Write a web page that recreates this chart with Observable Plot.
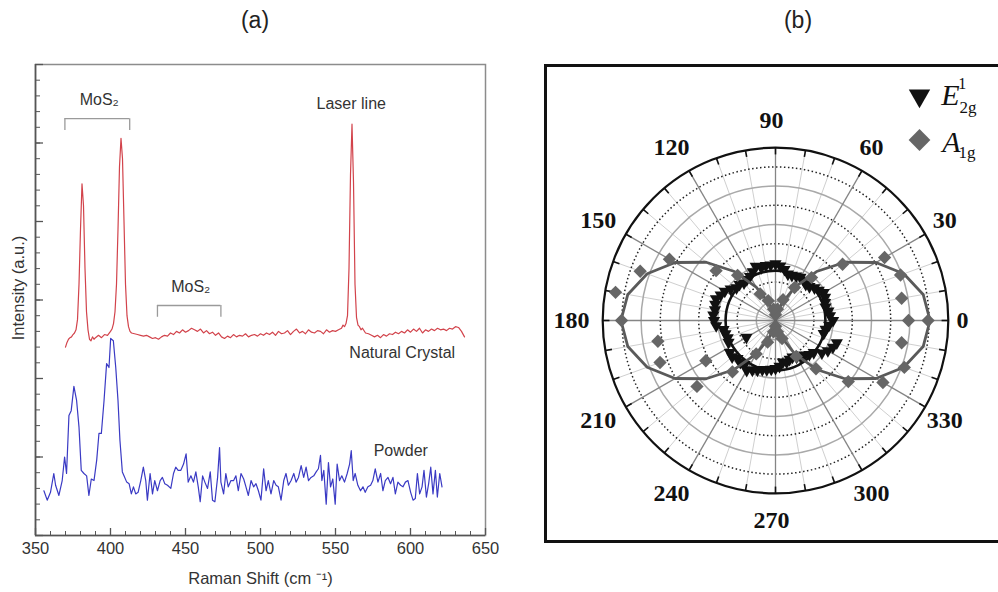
<!DOCTYPE html>
<html><head><meta charset="utf-8">
<script src="https://cdn.jsdelivr.net/npm/d3@7"></script>
<script src="https://cdn.jsdelivr.net/npm/@observablehq/plot@0.6"></script>
<style>
html,body{margin:0;padding:0;background:#fff;}
#wrap{position:relative;width:998px;height:592px;overflow:hidden;font-family:"Liberation Sans",Arial,sans-serif;}
.title{position:absolute;top:7px;font-size:23px;color:#222;transform:translateX(-50%);}
#pa{position:absolute;left:0;top:0;}
#pb{position:absolute;left:540px;top:50px;}
#boxb{position:absolute;left:544px;top:64px;width:470px;height:473px;border:3px solid #111;}
</style></head>
<body><div id="wrap">
<div class="title" style="left:255px">(a)</div>
<div class="title" style="left:798px">(b)</div>
<div id="boxb"></div>
<div id="pa"></div><div id="pb"></div>
</div>
<script>
// ---------- Panel (a) data: Raman spectra ----------
const naturalCrystal = [[370,2.40],[371,2.46],[372,2.50],[373,2.52],[374,2.53],[375,2.56],[376,2.58],[377,2.62],[378,2.75],[379,3.20],[380,3.90],[381,4.48],[382,4.20],[383,3.40],[384,2.85],[385,2.62],[386,2.50],[387,2.48],[388,2.53],[389,2.50],[390,2.52],[392,2.55],[394,2.52],[396,2.56],[398,2.55],[400,2.60],[401,2.63],[402,2.70],[403,2.85],[404,3.20],[405,3.90],[406,4.70],[407,5.06],[408,4.80],[409,4.00],[410,3.20],[411,2.80],[412,2.66],[413,2.60],[414,2.58],[416,2.57],[418,2.56],[420,2.55],[422,2.54],[424,2.55],[426,2.53],[428,2.51],[430,2.52],[432,2.50],[434,2.53],[436,2.55],[438,2.54],[440,2.58],[442,2.56],[444,2.60],[446,2.58],[448,2.62],[450,2.59],[452,2.61],[454,2.64],[456,2.62],[458,2.60],[460,2.63],[462,2.58],[464,2.61],[466,2.57],[468,2.59],[470,2.55],[472,2.58],[474,2.53],[476,2.51],[478,2.54],[480,2.52],[482,2.56],[484,2.53],[486,2.55],[488,2.54],[490,2.57],[492,2.53],[494,2.55],[496,2.56],[498,2.54],[500,2.57],[502,2.55],[504,2.58],[506,2.56],[508,2.59],[510,2.55],[512,2.60],[514,2.57],[516,2.58],[518,2.61],[520,2.56],[522,2.60],[524,2.63],[526,2.58],[528,2.60],[530,2.57],[532,2.62],[534,2.59],[536,2.58],[538,2.61],[540,2.60],[542,2.57],[544,2.62],[546,2.59],[548,2.61],[550,2.60],[552,2.62],[554,2.64],[555,2.68],[556,2.66],[557,2.70],[558,2.80],[559,3.40],[560,4.60],[561,5.24],[562,4.50],[563,3.20],[564,2.78],[565,2.68],[566,2.66],[567,2.62],[568,2.64],[570,2.58],[572,2.57],[574,2.55],[576,2.53],[578,2.55],[580,2.52],[582,2.56],[584,2.54],[586,2.57],[588,2.56],[590,2.59],[592,2.57],[594,2.60],[596,2.58],[598,2.62],[600,2.59],[602,2.63],[604,2.60],[606,2.64],[608,2.58],[610,2.62],[612,2.60],[614,2.63],[616,2.61],[618,2.64],[620,2.62],[622,2.63],[624,2.61],[626,2.64],[628,2.63],[630,2.66],[632,2.65],[634,2.60],[636,2.53]];

const powder = [[355.6,0.57],[357.8,0.45],[360.0,0.55],[362.2,0.79],[363.4,0.64],[365.6,0.51],[367.8,0.70],[369.4,1.00],[370.7,0.79],[372.3,1.53],[373.8,1.59],[375.6,1.90],[377.4,1.72],[379.0,1.38],[380.5,0.83],[382.3,0.79],[384.1,0.76],[385.6,0.51],[387.2,0.72],[389.0,0.70],[390.8,0.96],[392.3,1.30],[393.9,1.30],[395.7,1.72],[397.4,2.19],[399.0,2.14],[400.1,2.51],[401.9,2.48],[403.5,2.14],[405.0,1.72],[406.3,1.21],[407.9,0.81],[409.0,0.76],[410.8,0.68],[412.4,0.66],[413.9,0.53],[415.3,0.62],[416.8,0.53],[418.4,0.55],[420.2,0.70],[421.9,0.87],[423.5,0.70],[424.6,0.45],[426.4,0.79],[428.0,0.53],[429.5,0.70],[431.3,0.57],[433.1,0.70],[434.6,0.74],[436.2,0.66],[438.0,0.64],[440.2,0.60],[442.0,0.79],[443.5,0.87],[445.1,0.83],[446.9,0.83],[448.7,0.91],[450.4,1.04],[451.8,0.68],[453.6,0.76],[455.3,0.68],[456.9,0.81],[458.5,0.62],[459.8,0.43],[461.4,0.76],[462.9,0.68],[464.7,0.60],[466.5,0.81],[468.0,0.45],[469.6,0.43],[471.4,0.74],[472.7,1.12],[473.6,0.68],[475.4,0.53],[476.9,0.79],[478.5,0.62],[480.3,0.70],[482.1,0.70],[483.6,0.76],[485.2,0.57],[487.0,0.79],[488.8,0.72],[490.3,0.62],[491.9,0.51],[493.7,0.70],[495.4,0.62],[497.0,0.66],[498.6,0.57],[500.3,0.45],[502.1,0.85],[503.7,0.57],[505.2,0.70],[507.0,0.53],[508.8,0.70],[510.4,0.64],[511.9,0.62],[513.7,0.45],[515.5,0.70],[517.0,0.79],[518.6,0.64],[520.4,0.70],[522.2,0.79],[523.7,0.68],[525.3,0.74],[527.1,0.89],[528.8,0.74],[530.4,0.87],[532.0,0.70],[533.7,0.74],[535.5,0.76],[537.1,0.81],[538.6,0.85],[540.0,1.02],[540.9,0.70],[542.2,0.83],[543.8,0.40],[545.3,0.93],[546.7,0.62],[548.2,0.72],[549.8,0.40],[551.1,0.91],[552.7,0.70],[554.2,0.76],[556.0,0.68],[557.8,0.79],[559.4,0.91],[560.5,1.08],[561.8,0.70],[563.1,0.79],[564.9,0.64],[566.7,0.57],[568.3,0.62],[569.8,0.55],[571.6,0.62],[573.4,0.64],[574.9,0.70],[576.5,0.85],[578.3,0.68],[580.1,0.79],[581.6,0.57],[583.2,0.70],[585.0,0.74],[586.7,0.66],[588.3,0.74],[589.9,0.53],[591.6,0.68],[593.4,0.64],[595.0,0.62],[596.6,0.68],[598.3,0.70],[600.1,0.55],[601.7,0.45],[603.2,0.47],[604.6,0.79],[606.1,0.53],[607.7,0.62],[609.0,0.83],[610.6,0.49],[612.1,0.66],[613.5,0.87],[615.0,0.53],[616.6,0.83],[617.9,0.49],[619.5,0.79],[621.0,0.62]];

const xTickLabels = [350, 400, 450, 500, 550, 600, 650];
const brackets = [{from: 369.6, to: 412.8, level: 5.31}, {from: 431.3, to: 473.6, level: 2.93}];
const annotations = [
  {x: 392.5, y: 5.55, text: "MoS\u2082"},
  {x: 560.5, y: 5.50, text: "Laser line"},
  {x: 453.5, y: 3.17, text: "MoS\u2082"},
  {x: 594.5, y: 2.33, text: "Natural Crystal"},
  {x: 593.5, y: 1.08, text: "Powder"}
];

// ---------- Panel (b) data: polar intensities ----------
const a1gAngles = d3.range(0, 361, 10);
const a1gIntensity = [6.93,6.67,6.93,6.56,4.56,2.92,1.98,1.15,0.60,0.30,0.60,1.10,1.60,3.07,4.04,6.38,7.50,8.46,8.02,6.22,6.40,4.19,5.34,3.49,2.01,1.20,0.60,0.30,0.60,1.00,2.16,3.28,4.95,6.46,7.14,6.67,7.95];
const a1gFit = [8.05,7.81,7.11,6.04,4.72,3.33,2.01,0.94,0.24,0,0.24,0.94,2.01,3.33,4.72,6.04,7.11,7.81,8.05,7.81,7.11,6.04,4.72,3.33,2.01,0.94,0.24,0,0.24,0.94,2.01,3.33,4.72,6.04,7.11,7.81,8.05];
const e2gAngles = d3.range(0, 360, 5);
const e2gIntensity = [3.00,2.85,2.80,2.70,2.75,2.85,2.90,2.75,2.65,2.50,2.45,2.55,2.60,2.55,2.50,2.50,2.70,2.85,2.95,2.90,2.90,2.85,3.00,2.80,2.65,2.60,2.55,2.65,2.65,2.85,3.05,3.15,3.30,3.25,3.20,3.25,3.20,3.10,2.75,2.70,2.65,2.70,1.75,2.90,2.95,2.80,2.85,2.80,3.00,2.85,2.75,2.65,2.60,2.55,2.50,2.40,2.20,2.25,2.15,2.10,2.20,2.30,2.35,2.50,2.60,2.95,3.15,3.30,3.40,2.60,2.65,2.80];
const e2gFit = 2.6;
const angleLabels = [0, 30, 60, 90, 120, 150, 180, 210, 240, 270, 300, 330];

// ---------- Panel (a) ----------
const W = 540, H = 592, mL = 35, mR = 55, mT = 64, mB = 57;
const frameW = W - mL - mR, frameH = H - mT - mB;
const gray = "#333";
const pa = Plot.plot({
  width: W, height: H,
  marginLeft: mL, marginRight: mR, marginTop: mT, marginBottom: mB,
  style: {fontFamily: "'Liberation Sans', Arial, sans-serif", background: "transparent"},
  x: {domain: [350, 650]},
  y: {domain: [0, 6], axis: null},
  marks: [
    Plot.frame({stroke: "#8c8c8c", strokeWidth: 1.5}),
    Plot.ruleX([350], {stroke: "#555", strokeWidth: 1.6}),
    Plot.ruleY([0], {stroke: "#555", strokeWidth: 1.6}),
    Plot.tickX(d3.range(350, 651, 10), {x: d => d, stroke: "#555", insetTop: frameH - 4}),
    Plot.tickX(xTickLabels, {x: d => d, stroke: "#555", strokeWidth: 1.3, insetTop: frameH - 7}),
    Plot.tickY(d3.range(0, 6.01, 0.2), {y: d => d, stroke: "#555", insetRight: frameW - 5}),
    Plot.tickY(d3.range(0, 7, 1), {y: d => d, stroke: "#555", strokeWidth: 1.3, insetRight: frameW - 8}),
    Plot.axisX({ticks: xTickLabels, tickSize: 0, tickPadding: 7, label: null, fontSize: 16.5, fill: gray, tickFormat: d => String(d)}),
    Plot.text(["Raman Shift (cm \u207B\u00B9)"], {frameAnchor: "bottom", lineAnchor: "middle", dy: 43, fontSize: 16.5, fill: gray}),
    Plot.text(["Intensity (a.u.)"], {frameAnchor: "left", textAnchor: "middle", lineAnchor: "middle", rotate: -90, dx: -17, dy: -12, fontSize: 16.5, fill: gray}),
    Plot.ruleY(brackets, {x1: "from", x2: "to", y: "level", stroke: "#9a9a9a", strokeWidth: 1.3}),
    Plot.ruleX(brackets, {x: "from", y1: "level", y2: d => d.level - 0.15, stroke: "#9a9a9a", strokeWidth: 1.3}),
    Plot.ruleX(brackets, {x: "to", y1: "level", y2: d => d.level - 0.15, stroke: "#9a9a9a", strokeWidth: 1.3}),
    Plot.line(naturalCrystal, {x: d => d[0], y: d => d[1], stroke: "#d2434b", strokeWidth: 1.2}),
    Plot.line(powder, {x: d => d[0], y: d => d[1], stroke: "#3a3ac4", strokeWidth: 1.2}),
    Plot.text(annotations, {x: "x", y: "y", text: "text", fontSize: 16, fill: gray})
  ]
});
document.getElementById("pa").appendChild(pa);

// ---------- Panel (b) ----------
const BW = 458, BH = 510, cx = 235, cy = 270, R = 172.8;
const rad = a => a * Math.PI / 180;
const X = (a, r) => r * Math.cos(rad(a));
const Y = (a, r) => r * Math.sin(rad(a));
const triDown = {draw(ctx, size) {
  const h = Math.sqrt(size), w = h * 1.15;
  ctx.moveTo(-w / 2, -h / 3); ctx.lineTo(w / 2, -h / 3); ctx.lineTo(0, 2 * h / 3); ctx.closePath();
}};
const serif = "'Liberation Serif', 'Times New Roman', serif";
const labelR = 10.42;
const labelStyle = {x: a => X(a, labelR), y: a => Y(a, labelR), text: a => String(a),
  textAnchor: "middle", lineAnchor: "middle", fontFamily: serif, fontWeight: "bold", fontSize: 24, fill: "#111"};
const legendText = {frameAnchor: "top-right", textAnchor: "middle", lineAnchor: "middle", fontFamily: serif, fill: "#111"};
const a1g = a1gAngles.map((a, i) => ({a, r: a1gIntensity[i]}));
const a1gLine = a1gAngles.map((a, i) => ({a, r: a1gFit[i]}));
const e2g = e2gAngles.map((a, i) => ({a, r: e2gIntensity[i]}));
const pb = Plot.plot({
  width: BW, height: BH,
  marginLeft: cx - R, marginRight: BW - cx - R, marginTop: cy - R, marginBottom: BH - cy - R,
  style: {background: "transparent", overflow: "visible"},
  x: {domain: [-9, 9], axis: null},
  y: {domain: [-9, 9], axis: null},
  r: {type: "linear", domain: [0, 9], range: [0, R]},
  marks: [
    Plot.link(d3.range(0, 360, 10).filter(a => a % 30 !== 0), {x1: 0, y1: 0, x2: a => X(a, 9), y2: a => Y(a, 9), stroke: "#cfcfcf", strokeWidth: 1}),
    Plot.dot([1, 3, 5, 7], {x: 0, y: 0, r: d => d, stroke: "#a9a9a9", strokeWidth: 1.5, fill: "none"}),
    Plot.dot([2, 4, 6, 8], {x: 0, y: 0, r: d => d, stroke: "#222", strokeWidth: 1.5, strokeDasharray: "1.5,2.5", fill: "none"}),
    Plot.link(d3.range(0, 360, 30), {x1: 0, y1: 0, x2: a => X(a, 9), y2: a => Y(a, 9), stroke: "#858585", strokeWidth: 1.3}),
    Plot.dot([9], {x: 0, y: 0, r: d => d, stroke: "#111", strokeWidth: 2.2, fill: "none"}),
    Plot.link(d3.range(0, 360, 10), {x1: a => X(a, 9), y1: a => Y(a, 9), x2: a => X(a, 8.65), y2: a => Y(a, 8.65), stroke: "#111", strokeWidth: 1.6}),
    Plot.dot([e2gFit], {x: 0, y: 0, r: d => d, stroke: "#111", strokeWidth: 2.6, fill: "none"}),
    Plot.dot(e2g, {x: d => X(d.a, d.r), y: d => Y(d.a, d.r), symbol: triDown, r: 6, fill: "#111"}),
    Plot.line(a1gLine, {x: d => X(d.a, d.r), y: d => Y(d.a, d.r), stroke: "#5a5a5a", strokeWidth: 2.8}),
    Plot.dot(a1g, {x: d => X(d.a, d.r), y: d => Y(d.a, d.r), symbol: "diamond2", r: 6, fill: "#666"}),
    Plot.text(angleLabels.filter(a => a !== 0), {...labelStyle, dx: -4}),
    Plot.text([0], {...labelStyle, dx: -13}),
    // legend
    Plot.dot([0], {frameAnchor: "top-right", dx: -28.8, dy: -51.9, symbol: triDown, r: 10.5, fill: "#111"}),
    Plot.dot([0], {frameAnchor: "top-right", dx: -28.8, dy: -7.7, symbol: "diamond2", r: 9.8, fill: "#666"}),
    Plot.text(["E"], {...legendText, dx: 2.2, dy: -52.5, fontStyle: "italic", fontSize: 30}),
    Plot.text(["1"], {...legendText, dx: 13.9, dy: -64.2, fontSize: 16}),
    Plot.text(["2g"], {...legendText, dx: 19.7, dy: -40, fontSize: 17}),
    Plot.text(["A"], {...legendText, dx: 3.2, dy: -5.7, fontStyle: "italic", fontSize: 30}),
    Plot.text(["1g"], {...legendText, dx: 18.7, dy: 5, fontSize: 17})
  ]
});
document.getElementById("pb").appendChild(pb);
</script>
</body></html>
